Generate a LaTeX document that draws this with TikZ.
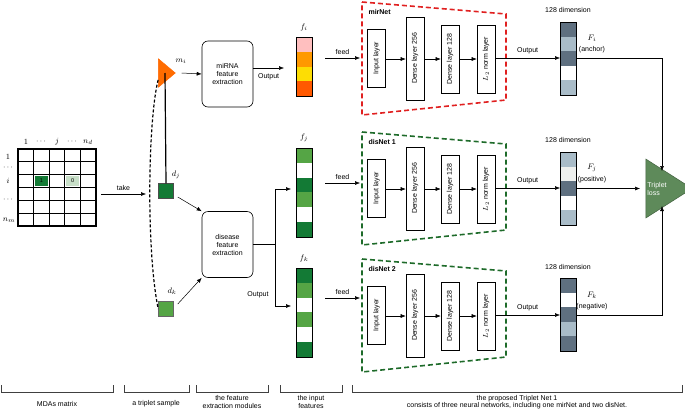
\documentclass[tikz,border=0pt]{standalone}
\usepackage{fontspec}
\setmainfont{Liberation Sans}
\usetikzlibrary{arrows.meta,shapes.geometric}
\definecolor{dk}{HTML}{5F7080}
\definecolor{lt}{HTML}{A9BCC8}
\definecolor{vl}{HTML}{EEF0EE}
\definecolor{gD}{HTML}{137A35}
\definecolor{gM}{HTML}{55A545}
\definecolor{gL}{HTML}{C8DFC8}
\definecolor{redd}{HTML}{E02020}
\definecolor{grd}{HTML}{1E6B2A}
\definecolor{loss}{HTML}{5E8A5A}
\begin{document}
\begin{tikzpicture}[x=1pt,y=-1pt,font=\fontsize{7}{8}\selectfont,
  arr/.style={-{Latex[length=5pt,width=4pt]},line width=0.5pt},
  ln/.style={line width=0.5pt},
  mth/.style={font=\fontsize{8.5}{9}\selectfont},
  layerbox/.style={draw,line width=0.6pt,fill=white,inner sep=0pt,minimum width=18pt},
  fbox/.style={draw,rounded corners=6pt,line width=0.6pt,align=center,minimum width=51pt,minimum height=66pt},
  vec/.style={draw,line width=0.8pt,inner sep=0pt,minimum width=16pt},
  trap/.style={line width=1.6pt,dash pattern=on 5pt off 3pt},
  brk/.style={line width=0.5pt,gray!50!black}]
\useasboundingbox (0,0) rectangle (685,410);
% matrix
\foreach \r in {0,...,5}{\foreach \c in {0,...,4}{
  \draw[line width=0.8pt] (18+15.6*\c,149+12.8*\r) rectangle ++(15.6,12.8);}}
\fill[gD] (33.6+1,174.6+1) rectangle ++(13.6,10.8);
\fill[gL] (64.8+1,174.6+1) rectangle ++(13.6,10.8);
\node[font=\fontsize{5.5}{6}\selectfont] (c1) at (41.4,181) {1};
\node[font=\fontsize{5.5}{6}\selectfont] (c0) at (72.6,181) {0};
\draw[line width=2pt] (18,148.6) -- (18,226.4);
\draw[line width=1.1pt] (18,149) rectangle (96,226);
\node[mth] (l1) at (26,142) {$1$};
\node[mth] (l2) at (41,142) {$\cdots$};
\node[mth] (l3) at (57,142) {$j$};
\node[mth] (l4) at (72,142) {$\cdots$};
\node[mth] (l5) at (88,142) {$n_d$};
\node[mth] (r1) at (8,157) {$1$};
\node[mth] (r2) at (8,168) {$\cdots$};
\node[mth] (r3) at (8,181) {$i$};
\node[mth] (r4) at (8,200) {$\cdots$};
\node[mth] (r5) at (9,220) {$n_m$};
\coordinate (t0) at (101,194);
\coordinate (t1) at (146,194);
\draw[arr] (t0) -- node[above]{take} (t1);
% triplet sample
\node[isosceles triangle,fill=orange!85!red,draw=orange!80!red,minimum width=23pt,minimum height=17pt,inner sep=0pt,isosceles triangle apex angle=80] (mi) at (165,73) {};
\node[fill=gD,draw=black!70,line width=0.5pt,minimum size=15pt,inner sep=0pt] (dj) at (166,191) {};
\node[fill=gM,draw=black!60,line width=0.5pt,minimum size=15pt,inner sep=0pt] (dk) at (166,309) {};
\draw[line width=1.2pt] (mi.center) -- (dj.north);
\draw[line width=1.2pt,dash pattern=on 3pt off 2pt] (mi.south west) .. controls (148,120) and (146,250) .. (dk.west);
\node[mth] (lmi) at (181,61) {$m_i$};
\node[mth] (ldj) at (176,175) {$d_j$};
\node[mth] (ldk) at (172,291) {$d_k$};
% feature extraction
\node[fbox] (mfe) at (227.5,74) {miRNA\\feature\\extraction};
\node[fbox] (dfe) at (227.5,244.5) {disease\\feature\\extraction};
\draw[arr] (mi.apex) ++(6,0) -- (mfe.west);
\draw[arr] (dj.east) ++(4,6) -- (dfe.north west);
\draw[arr] (dk.east) ++(4,-5) -- (dfe.south west);
\coordinate (mo) at (284,68);
\draw[arr] (mfe.east |- mo) -- node[below,yshift=-2pt]{Output} (mo);
\coordinate (br) at (275,244.5);
\coordinate (bu) at (291,189);
\coordinate (bd) at (291,306);
\draw[ln] (dfe.east) -- (br);
\draw[arr] (br) |- (bu);
\draw[arr] (br) |- (bd);
\node (dout) at (258,295) {Output};
% input feature vectors
\foreach \k/\c in {0/{red!25!white},1/{orange!80!yellow},2/{yellow!80!orange},3/{orange!70!red}}{
  \fill[\c] (296,37+14.75*\k) rectangle ++(16,14.75);}
\node[vec,minimum height=59pt,anchor=north west] (fi) at (296,37) {};
\foreach \k/\c in {0/gM,1/white,2/gD,3/gM,4/white,5/gD}{
  \fill[\c] (296,148+14.83*\k) rectangle ++(16,14.83);}
\node[vec,minimum height=89pt,anchor=north west] (fj) at (296,148) {};
\foreach \k/\c in {0/gD,1/gM,2/white,3/gM,4/white,5/gD}{
  \fill[\c] (296,268+14.83*\k) rectangle ++(16,14.83);}
\node[vec,minimum height=89pt,anchor=north west] (fk) at (296,268) {};
\node[mth] (lfi) at (304,27) {$f_i$};
\node[mth] (lfj) at (304,138) {$f_j$};
\node[mth] (lfk) at (304,258) {$f_k$};
% networks
\newcommand{\mynet}[7]{% #1 offset, #2 colour, #3 name, #4 feed y, #5 id, #6 F label, #7 role
  \draw[trap,#2] (362,2+#1) -- (506,14+#1) -- (506,100+#1) -- (362,115+#1) -- cycle;
  \node[font=\fontsize{7}{8}\selectfont\bfseries,anchor=west] (nm#5) at (365,12+#1) {#3};
  \node[layerbox,minimum height=58pt] (in#5) at (376.5,58+#1) {\rotatebox{90}{Input layer}};
  \node[layerbox,minimum height=83pt] (da#5) at (415,58.5+#1) {\rotatebox{90}{Dense layer 256}};
  \node[layerbox,minimum height=68pt] (db#5) at (450,59+#1) {\rotatebox{90}{Dense layer 128}};
  \node[layerbox,minimum height=68pt] (ln#5) at (486,59+#1) {\rotatebox{90}{$L_2$ norm layer}};
  \coordinate (fs#5) at (325,#4);
  \coordinate (fe#5) at (360,#4);
  \draw[arr] (fs#5) -- node[above]{feed} (fe#5);
  \draw[arr] (in#5.east |- ln#5) -- (da#5.west |- ln#5);
  \draw[arr] (da#5.east |- ln#5) -- (db#5.west |- ln#5);
  \draw[arr] (db#5.east |- ln#5) -- (ln#5.west);
  \node (dim#5) at (568,10+#1) {128 dimension};
  \node[mth] (F#5) at (592,38+#1) {$#6$};
  \node (role#5) at (592,50+#1) {(#7)};
}
\mynet{0}{redd}{mirNet}{58}{a}{F_i}{anchor}
\mynet{130}{grd}{disNet 1}{183}{b}{F_j}{positive}
\mynet{257}{grd}{disNet 2}{298}{c}{F_k}{negative}
% output vectors
\foreach \k/\c in {0/dk,1/lt,2/dk,3/white,4/lt}{\fill[\c] (560,22+14.6*\k) rectangle ++(16,14.6);}
\node[vec,minimum height=73pt,anchor=north west] (va) at (560,22) {};
\foreach \k/\c in {0/lt,1/vl,2/dk,3/white,4/lt}{\fill[\c] (560,152+14.6*\k) rectangle ++(16,14.6);}
\node[vec,minimum height=73pt,anchor=north west] (vb) at (560,152) {};
\foreach \k/\c in {0/dk,1/white,2/dk,3/lt,4/dk}{\fill[\c] (560,278+14.6*\k) rectangle ++(16,14.6);}
\node[vec,minimum height=73pt,anchor=north west] (vc) at (560,278) {};
\coordinate (oa) at (560,58);
\coordinate (ob) at (560,188);
\coordinate (oc) at (560,315);
\draw[arr] (lna.east |- oa) -- node[above]{Output} (oa);
\draw[arr] (lnb.east |- ob) -- node[above]{Output} (ob);
\draw[arr] (lnc.east |- oc) -- node[above]{Output} (oc);
% triplet loss
\node[isosceles triangle,fill=loss,draw=loss!70!black,line width=0.5pt,minimum width=59pt,minimum height=46pt,inner sep=0pt,isosceles triangle apex angle=65] (tl) at (662,188.5) {};
\node[text=white,align=left] (tlt) at (657,188.5) {Triplet\\loss};
\coordinate (ta) at (662,171);
\coordinate (tc) at (662,206);
\coordinate (tb) at (640,188.5);
\draw[arr] (va.east |- oa) -| (ta);
\draw[arr] (vb.east |- tb) -- (tb);
\draw[arr] (vc.east |- oc) -| (tc);
% brackets
\foreach \a/\b/\n in {1/113/m,124/189/t,196/268/f,280/342/i,352/682/p}{
  \draw[brk] (\a,385) -- (\a,392) -- (\b,392) -- (\b,385);}
\node (bm) at (57,404) {MDAs matrix};
\node (bt) at (156,404) {a triplet sample};
\node[align=center,font=\fontsize{7}{7.6}\selectfont] (bf) at (232,402) {the feature\\extraction modules};
\node[align=center,font=\fontsize{7}{7.6}\selectfont] (bi) at (311,402) {the input\\features};
\node[align=center,font=\fontsize{7}{7.6}\selectfont] (bp) at (517,402) {the proposed Triplet Net 1\\consists of three neural networks, including one mirNet and two disNet.};
\end{tikzpicture}
\end{document}
